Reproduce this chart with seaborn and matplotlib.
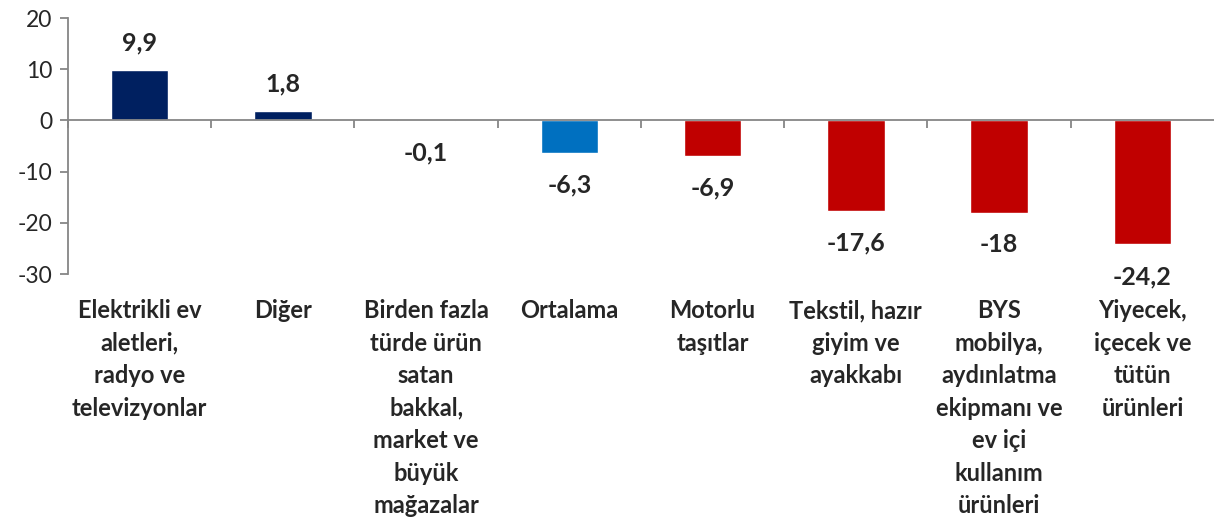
import matplotlib
matplotlib.use("Agg")
import matplotlib.pyplot as plt
import seaborn as sns
import numpy as np

categories = [
    "Elektrikli ev\naletleri,\nradyo ve\ntelevizyonlar",
    "Diğer",
    "Birden fazla\ntürde ürün\nsatan\nbakkal,\nmarket ve\nbüyük\nmağazalar",
    "Ortalama",
    "Motorlu\ntaşıtlar",
    "Tekstil, hazır\ngiyim ve\nayakkabı",
    "BYS\nmobilya,\naydınlatma\nekipmanı ve\nev içi\nkullanım\nürünleri",
    "Yiyecek,\niçecek ve\ntütün\nürünleri",
]
values = [9.9, 1.8, -0.1, -6.3, -6.9, -17.6, -18.0, -24.2]
value_labels = ["9,9", "1,8", "-0,1", "-6,3", "-6,9", "-17,6", "-18", "-24,2"]
colors = ["#002060", "#002060", "#C00000", "#0070C0", "#C00000", "#C00000", "#C00000", "#C00000"]

sns.set_style("white")
plt.rcParams["font.family"] = ["Lato", "DejaVu Sans"]

fig = plt.figure(figsize=(12.14, 5.22), dpi=100)
ax = fig.add_axes([0.056, 0.475, 0.944, 0.4905])

sns.barplot(x=list(range(len(values))), y=values, hue=list(range(len(values))),
            palette=colors, legend=False, width=0.4, saturation=1, ax=ax)

ax.set_xlim(-0.5, len(values) - 0.5)
ax.set_ylim(-30, 20)
ax.set_yticks([-30, -20, -10, 0, 10, 20])
ax.set_yticklabels(["-30", "-20", "-10", "0", "10", "20"], fontsize=16.5)

grey = "#868686"
for s in ["top", "right"]:
    ax.spines[s].set_visible(False)
ax.spines["left"].set_color(grey)
ax.spines["left"].set_linewidth(1.3)
ax.spines["bottom"].set_position(("data", 0))
ax.spines["bottom"].set_color(grey)
ax.spines["bottom"].set_linewidth(1.3)

ax.tick_params(axis="y", direction="out", length=6, width=1.3, color=grey, left=True, pad=5)
ax.set_xticks(np.arange(len(values)) - 0.5, minor=False)
ax.set_xticklabels([])
ax.tick_params(axis="x", direction="out", length=6, width=1.3, color=grey, bottom=True)
ax.set_xlabel("")
ax.set_ylabel("")

# value labels
for i, (v, lab) in enumerate(zip(values, value_labels)):
    off = 5.3 if v >= 0 else -6.3
    ax.text(i, v + off, lab, ha="center", va="center", fontsize=18, fontweight="bold")

# category labels below the plot
for i, cat in enumerate(categories):
    ax.text(i, -34.9, cat, ha="center", va="top", fontsize=17, fontweight="bold",
            linespacing=1.5, clip_on=False)

fig.savefig("out.png", dpi=100)
